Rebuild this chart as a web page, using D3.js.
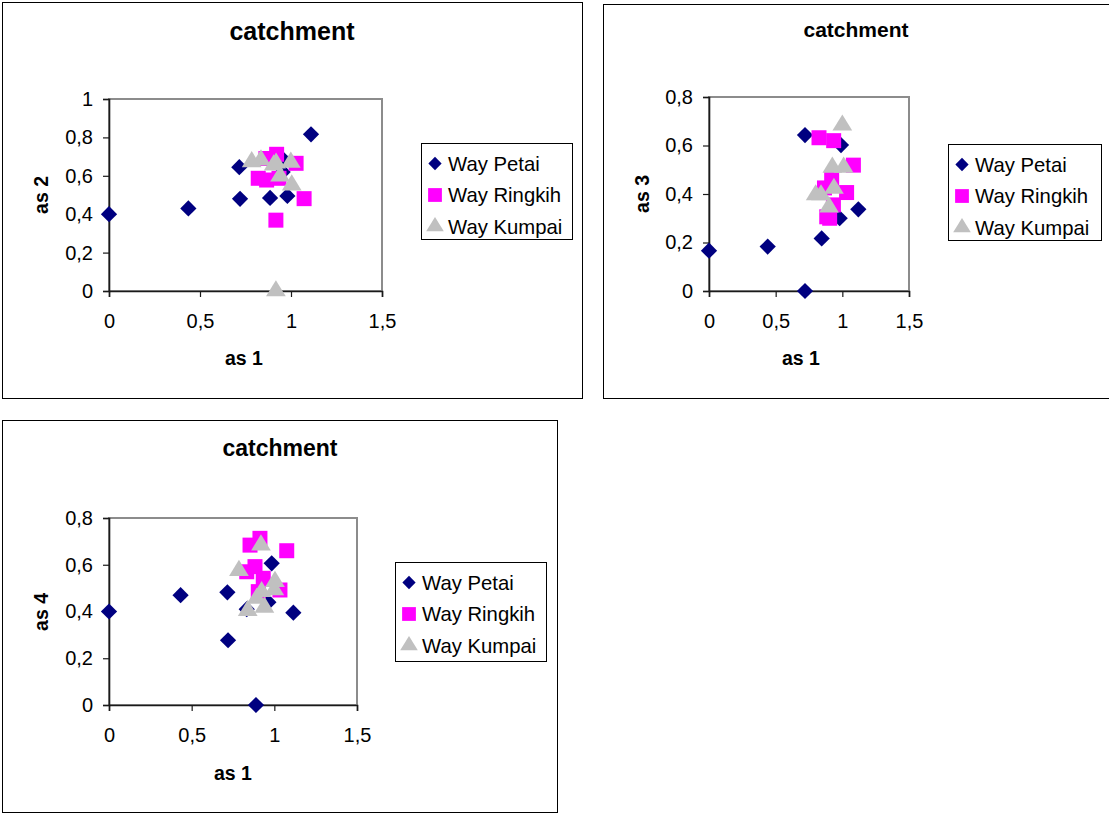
<!DOCTYPE html>
<html>
<head>
<meta charset="utf-8">
<script src="https://cdn.jsdelivr.net/npm/d3@7"></script>
<style>
  html, body { margin: 0; padding: 0; background: #fff; }
  svg { display: block; }
  text { font-family: "Liberation Sans", Arial, sans-serif; fill: #000; }
</style>
</head>
<body>
<svg id="chart" width="1109" height="814"></svg>
<script>
// ---- data -------------------------------------------------------------
const seriesNames = ["Way Petai", "Way Ringkih", "Way Kumpai"];
const xTicks = [0, 0.5, 1, 1.5];
const yTicksA = [0, 0.2, 0.4, 0.6, 0.8, 1];
const yTicksB = [0, 0.2, 0.4, 0.6, 0.8];

// as 1 vs as 2
const petai12 = [[0, 0.40], [0.436, 0.43], [0.716, 0.645], [0.72, 0.48], [0.885, 0.485],
                 [0.98, 0.495], [1.11, 0.816], [0.952, 0.69], [0.954, 0.62]];
const ringkih12 = [[0.921, 0.712], [0.862, 0.69], [1.028, 0.665], [0.82, 0.587], [0.866, 0.578],
                   [0.934, 0.587], [1.072, 0.481], [0.917, 0.369]];
const kumpai12 = [[0.784, 0.673], [0.835, 0.682], [0.905, 0.656], [0.918, 0.666], [0.94, 0.598],
                  [0.999, 0.67], [1.004, 0.552], [0.917, 0]];

// as 1 vs as 3
const petai13 = [[0, 0.166], [0.44, 0.183], [0.72, 0.643], [0.72, 0], [0.845, 0.217],
                 [0.99, 0.602], [1.12, 0.337], [0.98, 0.30]];
const ringkih13 = [[0.825, 0.632], [0.935, 0.62], [1.083, 0.519], [0.92, 0.465], [0.866, 0.425],
                   [1.032, 0.406], [0.933, 0.355], [0.883, 0.306], [0.905, 0.30]];
const kumpai13 = [[1.0, 0.684], [0.925, 0.51], [1.01, 0.51], [0.937, 0.423], [0.80, 0.396],
                  [0.84, 0.396], [0.90, 0.346]];

// as 1 vs as 4
const petai14 = [[0, 0.40], [0.433, 0.47], [0.716, 0.482], [0.72, 0.277], [0.889, 0],
                 [0.984, 0.606], [1.115, 0.395], [0.833, 0.41], [0.964, 0.44]];
const ringkih14 = [[0.913, 0.713], [0.853, 0.684], [1.075, 0.66], [0.883, 0.592], [0.833, 0.57],
                   [0.933, 0.542], [1.034, 0.492], [0.903, 0.485]];
const kumpai14 = [[0.919, 0.684], [0.786, 0.575], [1.004, 0.528], [1.0, 0.492], [0.923, 0.485],
                  [0.893, 0.456], [0.94, 0.418], [0.839, 0.404]];

// ---- styling ------------------------------------------------------------
const colors = ["#000080", "#ff00ff", "#c0c0c0"];
const shapes = [d3.symbolSquare, d3.symbolSquare, d3.symbolTriangle];
const rotation = [45, 0, 0];          // the diamond is a square turned 45°
const markerArea = [132, 225, 150];
const legendArea = [88, 190, 115];

const locale = d3.formatLocale({ decimal: ",", thousands: ".", grouping: [3], currency: ["", ""] });
const fmt = locale.format("~g");

const svg = d3.select("#chart");

function drawChart(cfg) {
  const g = svg.append("g");

  // outer frame
  g.append("rect")
    .attr("x", cfg.frame[0] + 0.5).attr("y", cfg.frame[1] + 0.5)
    .attr("width", cfg.frame[2]).attr("height", cfg.frame[3])
    .attr("fill", "#fff").attr("stroke", "#000").attr("stroke-width", 1);

  const [L, T, R, B] = cfg.plot;
  const x = d3.scaleLinear().domain([0, 1.5]).range([L, R]);
  const y = d3.scaleLinear().domain([0, cfg.yMax]).range([B, T]);

  // plot area border (grey top / right)
  g.append("rect")
    .attr("x", L).attr("y", T).attr("width", R - L).attr("height", B - T)
    .attr("fill", "#fff").attr("stroke", "#8c8c8c").attr("stroke-width", 2);

  // axes
  const xAxis = d3.axisBottom(x).tickValues(xTicks).tickFormat(fmt).tickSize(6).tickPadding(17);
  const yAxis = d3.axisLeft(y).tickValues(cfg.yTicks).tickFormat(fmt).tickSize(6).tickPadding(10);

  const gx = g.append("g").attr("transform", `translate(0,${B})`).call(xAxis);
  const gy = g.append("g").attr("transform", `translate(${L},0)`).call(yAxis);
  [gx, gy].forEach(a => {
    a.select(".domain").attr("stroke", "#1a1a1a").attr("stroke-width", 1.6);
    a.selectAll(".tick line").attr("stroke", "#1a1a1a").attr("stroke-width", 1.2);
    a.selectAll(".tick text")
      .attr("font-size", 20)
      .attr("font-family", '"Liberation Sans", Arial, sans-serif')
      .attr("fill", "#000");
  });

  // title
  g.append("text")
    .attr("x", cfg.frame[0] + cfg.titleCx).attr("y", cfg.titleY)
    .attr("text-anchor", "middle").attr("font-weight", "bold")
    .attr("font-size", cfg.titleSize).text("catchment");

  // axis titles
  g.append("text")
    .attr("x", cfg.xLabel[0]).attr("y", cfg.xLabel[1])
    .attr("text-anchor", "middle").attr("font-weight", "bold")
    .attr("font-size", 19.5).text("as 1");
  g.append("text")
    .attr("transform", `translate(${cfg.yLabel[0]},${cfg.yLabel[1]}) rotate(-90)`)
    .attr("text-anchor", "middle").attr("font-weight", "bold")
    .attr("font-size", 19.5).text(cfg.yName);

  // markers
  cfg.series.forEach((pts, i) => {
    g.append("g").selectAll("path").data(pts).enter().append("path")
      .attr("d", d3.symbol().type(shapes[i]).size(markerArea[i]))
      .attr("transform", d => {
        const sx = i === 2 ? 1.06 : 1;
        return `translate(${x(d[0])},${y(d[1])}) rotate(${rotation[i]}) scale(${sx},1)`;
      })
      .attr("fill", colors[i]);
  });

  // legend
  const [lx, ly, lw, lh] = cfg.legend;
  g.append("rect")
    .attr("x", lx + 0.5).attr("y", ly + 0.5).attr("width", lw).attr("height", lh)
    .attr("fill", "#fff").attr("stroke", "#000").attr("stroke-width", 1);
  seriesNames.forEach((name, i) => {
    const ry = ly + 20.5 + i * 31.5;
    g.append("path")
      .attr("d", d3.symbol().type(shapes[i]).size(legendArea[i]))
      .attr("transform", `translate(${lx + 14},${ry}) rotate(${rotation[i]}) scale(${i === 2 ? 1.08 : 1},1)`)
      .attr("fill", colors[i]);
    g.append("text")
      .attr("x", lx + 27).attr("y", ry + 7)
      .attr("font-size", 20.3).text(name);
  });
}

drawChart({
  frame: [2, 2, 580, 396], titleCx: 290, titleY: 40, titleSize: 25,
  plot: [109, 99, 382, 291], yMax: 1, yTicks: yTicksA, yName: "as 2",
  xLabel: [244, 365], yLabel: [48, 195],
  series: [petai12, ringkih12, kumpai12],
  legend: [421, 143, 151, 96]
});

drawChart({
  frame: [603, 4, 520, 394], titleCx: 253, titleY: 37, titleSize: 21,
  plot: [709, 97, 909, 291], yMax: 0.8, yTicks: yTicksB, yName: "as 3",
  xLabel: [801, 365], yLabel: [649, 194],
  series: [petai13, ringkih13, kumpai13],
  legend: [948, 144, 153, 96]
});

drawChart({
  frame: [2, 420, 555, 392], titleCx: 278, titleY: 456, titleSize: 23,
  plot: [109, 518, 357, 705], yMax: 0.8, yTicks: yTicksB, yName: "as 4",
  xLabel: [233, 780], yLabel: [48, 612],
  series: [petai14, ringkih14, kumpai14],
  legend: [395, 562, 151, 99]
});
</script>
</body>
</html>
